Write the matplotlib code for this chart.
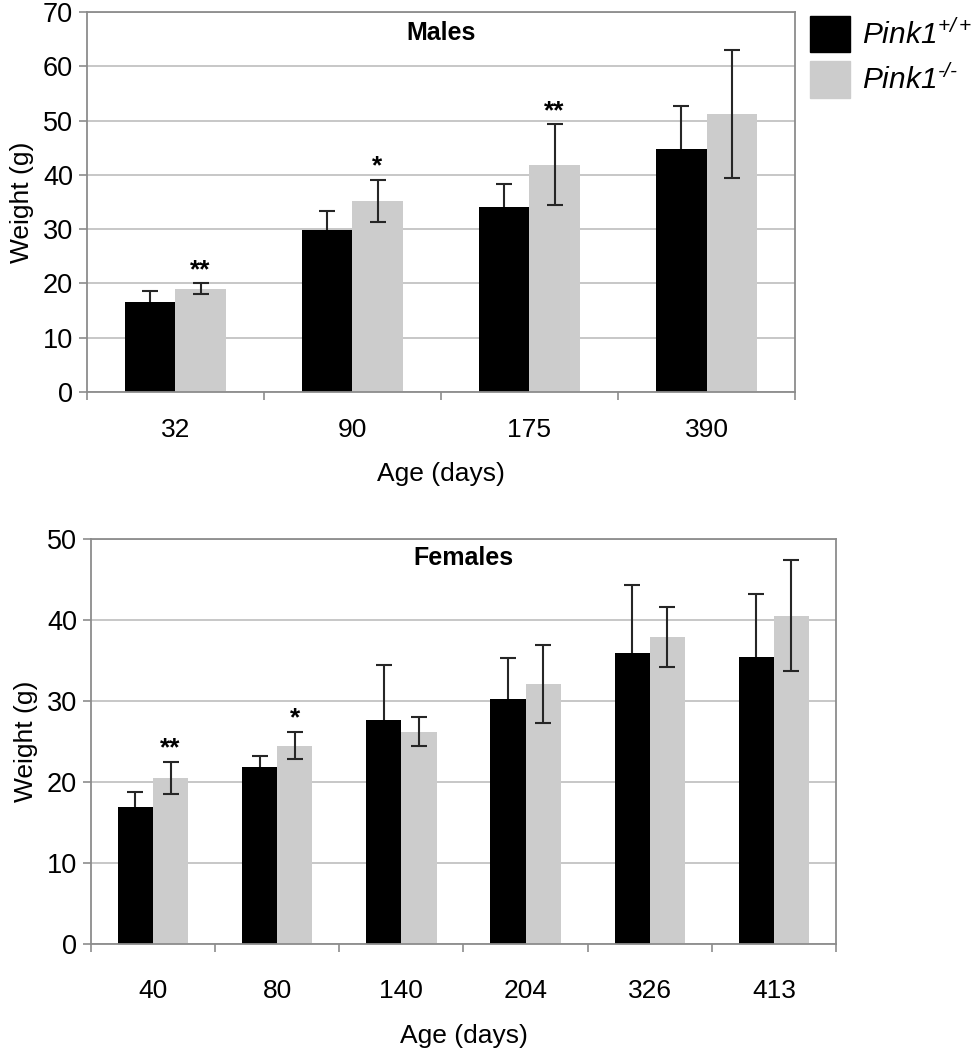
import matplotlib
matplotlib.use('Agg')
import matplotlib.pyplot as plt
import numpy as np
from matplotlib.patches import Patch

plt.rcParams['font.family'] = ['Liberation Sans', 'DejaVu Sans']
plt.rcParams['mathtext.fontset'] = 'custom'
plt.rcParams['mathtext.rm'] = 'Liberation Sans:italic'
plt.rcParams['mathtext.it'] = 'Liberation Sans:italic'

# males
male_ages = ['32', '90', '175', '390']
male_wt = [16.6, 29.9, 34.1, 44.7]
male_wt_err = [2.0, 3.5, 4.3, 7.9]
male_ko = [19.0, 35.2, 41.9, 51.2]
male_ko_err = [1.0, 3.9, 7.4, 11.75]
male_stars = ['**', '*', '**', '']

# females
female_ages = ['40', '80', '140', '204', '326', '413']
female_wt = [16.9, 21.8, 27.7, 30.3, 35.9, 35.4]
female_wt_err = [1.8, 1.4, 6.8, 5.0, 8.4, 7.8]
female_ko = [20.5, 24.5, 26.2, 32.1, 37.9, 40.5]
female_ko_err = [2.0, 1.7, 1.8, 4.85, 3.65, 6.85]
female_stars = ['**', '*', '', '', '', '']

BLACK = '#000000'
GREY = '#cccccc'
FRAME = '#8c8c8c'


def draw_panel(ax, ages, wt, wt_err, ko, ko_err, stars, ymax, title, title_y, xpad, xlabelpad):
    x = np.arange(len(ages))
    w = 0.283
    err_kw = dict(ecolor='#262626', elinewidth=1.5, capsize=5.5, capthick=1.5, fmt='none')
    ax.bar(x - w/2, wt, w, color=BLACK, zorder=2)
    # errorbar sits under the black bar so only the upper half shows
    ax.errorbar(x - w/2, wt, yerr=wt_err, zorder=1.5, **err_kw)
    ax.bar(x + w/2, ko, w, color=GREY, zorder=2)
    ax.errorbar(x + w/2, ko, yerr=ko_err, zorder=3, **err_kw)
    for i, s in enumerate(stars):
        if s:
            ax.annotate(s, (x[i] + w/2, ko[i] + ko_err[i]), xytext=(0, 1),
                        textcoords='offset points', ha='center', va='bottom',
                        fontsize=19, fontweight='bold')
    ax.set_xlim(-0.5, len(ages) - 0.5)
    ax.set_ylim(0, ymax)
    ax.set_yticks(np.arange(0, ymax + 1, 10))
    ax.yaxis.grid(True, color='#bdbdbd', linewidth=1.2, zorder=0)
    ax.set_axisbelow(True)
    ax.set_xticks(x)
    ax.set_xticklabels(ages)
    ax.set_xticks(np.arange(-0.5, len(ages)), minor=True)
    ax.tick_params(axis='x', which='major', length=0, pad=xpad, labelsize=19)
    ax.tick_params(axis='x', which='minor', length=6, width=1.2, color=FRAME)
    ax.tick_params(axis='y', length=6, width=1.2, color=FRAME, pad=4, labelsize=19.5)
    for sp in ax.spines.values():
        sp.set_color(FRAME)
        sp.set_linewidth(1.3)
    ax.set_ylabel('Weight (g)', fontsize=19, labelpad=6)
    ax.set_xlabel('Age (days)', fontsize=19, labelpad=xlabelpad)
    ax.text(0.5, title_y, title, transform=ax.transAxes, ha='center', va='center',
            fontsize=18, fontweight='bold')


fig = plt.figure(figsize=(9.75, 10.5), dpi=100)
ax1 = fig.add_axes([0.0892, 0.6267, 0.7262, 0.3619])
ax2 = fig.add_axes([0.0933, 0.1010, 0.7641, 0.3857])

draw_panel(ax1, male_ages, male_wt, male_wt_err, male_ko, male_ko_err, male_stars, 70,
           'Males', 0.945, 18.5, 15)
draw_panel(ax2, female_ages, female_wt, female_wt_err, female_ko, female_ko_err, female_stars, 50,
           'Females', 0.953, 25, 15)

handles = [Patch(color=BLACK), Patch(color=GREY)]
labels = [r'Pink1$^{+/+}$', 'Pink1$^{\u2010/\u2010}$']
ax1.legend(handles, labels, loc='upper left', bbox_to_anchor=(1.021, 0.99),
           frameon=False, prop={'size': 21.5, 'style': 'italic'},
           handlelength=1.34, handleheight=1.5, handletextpad=0.4,
           labelspacing=0.3, borderaxespad=0, borderpad=0)

fig.savefig('out.png', dpi=100)
